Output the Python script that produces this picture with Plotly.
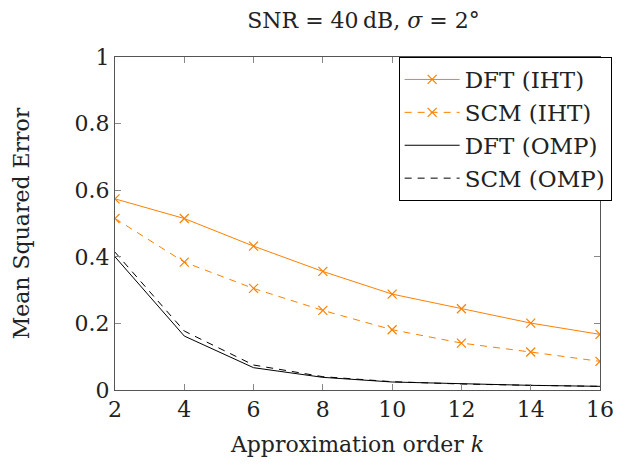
import plotly.graph_objects as go

k = [2, 4, 6, 8, 10, 12, 14, 16]
dft_iht = [0.574, 0.515, 0.432, 0.356, 0.288, 0.244, 0.201, 0.167]
scm_iht = [0.515, 0.384, 0.305, 0.239, 0.181, 0.141, 0.114, 0.086]
dft_omp = [0.400, 0.162, 0.067, 0.038, 0.024, 0.018, 0.014, 0.011]
scm_omp = [0.414, 0.177, 0.075, 0.040, 0.025, 0.018, 0.014, 0.011]

x_ticks = [2, 4, 6, 8, 10, 12, 14, 16]
y_ticks = [0, 0.2, 0.4, 0.6, 0.8, 1]
y_tick_labels = ["0", "0.2", "0.4", "0.6", "0.8", "1"]

orange = "#FF8000"
FONT = "DejaVu Serif, serif"
TXT = "#222222"

fig = go.Figure()
fig.add_trace(go.Scatter(x=k, y=dft_iht, name="DFT (IHT)", mode="lines+markers",
                         line=dict(color=orange, width=1),
                         marker=dict(symbol="x-thin-open", size=9, line=dict(color=orange, width=1.2))))
fig.add_trace(go.Scatter(x=k, y=scm_iht, name="SCM (IHT)", mode="lines+markers",
                         line=dict(color=orange, width=1, dash="7px,6px"),
                         marker=dict(symbol="x-thin-open", size=9, line=dict(color=orange, width=1.2))))
fig.add_trace(go.Scatter(x=k, y=dft_omp, name="DFT (OMP)", mode="lines",
                         line=dict(color="black", width=1)))
fig.add_trace(go.Scatter(x=k, y=scm_omp, name="SCM (OMP)", mode="lines",
                         line=dict(color="black", width=1, dash="7px,6px")))

axis_common = dict(showline=True, linecolor="#555555", linewidth=1, mirror="ticks",
                   ticks="inside", ticklen=6, tickcolor="#888888", tickwidth=1,
                   showgrid=False, zeroline=False,
                   tickfont=dict(family=FONT, size=22, color=TXT))

fig.update_xaxes(range=[2, 16], tickvals=x_ticks, ticktext=[str(v) for v in x_ticks],
                 title_text="Approximation order <i>k</i>", title_standoff=15,
                 title_font=dict(family=FONT, size=22, color=TXT), **axis_common)
fig.update_yaxes(range=[0, 1], tickvals=y_ticks, ticktext=y_tick_labels,
                 title_text="Mean Squared Error", title_standoff=38,
                 title_font=dict(family=FONT, size=22, color=TXT), **axis_common)

fig.update_layout(
    width=626, height=468,
    margin=dict(l=115, r=14, t=57, b=78),
    paper_bgcolor="white", plot_bgcolor="white",
    title=dict(text="SNR = 40\u2009dB, <i>\u03c3</i> = 2\u00b0", x=(115 + 612) / 2 / 626, xanchor="center",
               y=1 - 20 / 468, yanchor="middle",
               font=dict(family=FONT, size=22, color=TXT)),
    legend=dict(x=1.024, y=1, xanchor="right", yanchor="top", bordercolor="black", borderwidth=1,
                bgcolor="white", font=dict(family=FONT, size=23, color=TXT),
                itemwidth=55, tracegroupgap=0),
    showlegend=True,
)

fig.write_html("out.html")
